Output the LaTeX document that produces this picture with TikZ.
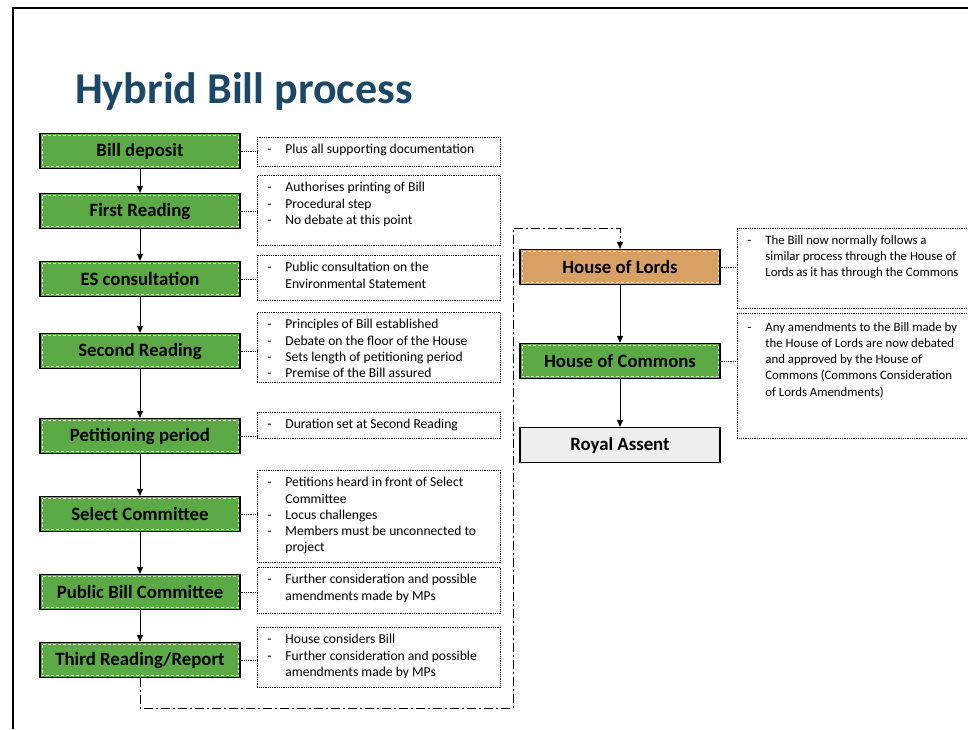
\documentclass[tikz,border=0pt]{standalone}
\usepackage{fontspec}
\setmainfont{Carlito}
\usetikzlibrary{arrows.meta}
\definecolor{stagegreen}{RGB}{92,170,70}
\definecolor{stageline}{RGB}{200,235,180}
\definecolor{lordsorange}{RGB}{216,160,98}
\definecolor{lordsline}{RGB}{245,220,185}
\definecolor{assentgrey}{RGB}{238,238,236}
\definecolor{titleblue}{RGB}{28,72,104}
\newcommand{\dashitem}{\makebox[18pt][l]{-}}
\newcommand{\contline}{\hspace*{18pt}}
\newcommand{\notetext}[3]{\parbox[c][#2][t]{#1}{\raggedright\vspace*{2pt}#3}}
\tikzset{
  inner dash/.style={path picture={\draw[#1, densely dashed, line width=0.7pt]
      ([shift={(2pt,-2pt)}]path picture bounding box.north west) rectangle
      ([shift={(-2pt,2pt)}]path picture bounding box.south east);}},
  box/.style={draw=black, line width=1.2pt, minimum width=200pt, minimum height=35pt,
    font=\bfseries\fontsize{18.8}{22}\selectfont},
  stage/.style={box, fill=stagegreen, inner dash=stageline},
  lords/.style={box, fill=lordsorange, inner dash=lordsline},
  assent/.style={box, fill=assentgrey},
  note/.style={draw, densely dotted, line width=0.8pt, anchor=north west,
    inner xsep=10pt, inner ysep=5pt, font=\fontsize{13.6}{16.2}\selectfont},
  sidenote/.style={note, font=\fontsize{12.8}{16.2}\selectfont},
  link/.style={densely dotted, line width=0.8pt},
  flow/.style={-{Triangle[length=7pt,width=6pt]}, line width=0.9pt},
  backlink/.style={flow, dash pattern=on 9pt off 3pt on 2pt off 3pt},
}
\begin{document}
\begin{tikzpicture}[x=1pt, y=-1pt]
  \useasboundingbox (0,0) rectangle (968,729);
  \clip (0,0) rectangle (968,729);
  \draw[line width=1.8pt] (13,729) -- (13,8) -- (968,8);
  \node[anchor=base west, inner sep=0, text=titleblue,
    font=\bfseries\fontsize{44}{52}\selectfont] (title) at (75,103) {Hybrid Bill process};
  % Commons stages
  \node[stage] (deposit) at (140,151) {Bill deposit};
  \node[stage] (first) at (140,211) {First Reading};
  \node[stage] (es) at (140,279) {ES consultation};
  \node[stage] (second) at (140,351) {Second Reading};
  \node[stage] (petition) at (140,436) {Petitioning period};
  \node[stage] (select) at (140,514) {Select Committee};
  \node[stage] (public) at (140,592) {Public Bill Committee};
  \node[stage] (third) at (140,660) {Third Reading/Report};
  % later stages
  \node[lords] (lords) at (620,267) {House of Lords};
  \node[stage] (commons) at (620,361) {House of Commons};
  \node[assent] (assent) at (620,445) {Royal Assent};
  % notes
  \node[note] (n1) at (257,137) {\notetext{223pt}{19pt}{\dashitem Plus all supporting documentation}};
  \node[note] (n2) at (257,175) {\notetext{223pt}{60pt}{\dashitem Authorises printing of Bill\\
    \dashitem Procedural step\\ \dashitem No debate at this point}};
  \node[note] (n3) at (257,255) {\notetext{223pt}{35pt}{\dashitem Public consultation on the\\
    \contline Environmental Statement}};
  \node[note] (n4) at (257,312) {\notetext{223pt}{60pt}{\dashitem Principles of Bill established\\
    \dashitem Debate on the floor of the House\\ \dashitem Sets length of petitioning period\\
    \dashitem Premise of the Bill assured}};
  \node[note] (n5) at (257,412) {\notetext{223pt}{16pt}{\dashitem Duration set at Second Reading}};
  \node[note] (n6) at (257,470) {\notetext{223pt}{82pt}{\dashitem Petitions heard in front of Select\\
    \contline Committee\\ \dashitem Locus challenges\\ \dashitem Members must be unconnected to\\
    \contline project}};
  \node[note] (n7) at (257,567) {\notetext{223pt}{36pt}{\dashitem Further consideration and possible\\
    \contline amendments made by MPs}};
  \node[note] (n8) at (257,627) {\notetext{223pt}{50pt}{\dashitem House considers Bill\\
    \dashitem Further consideration and possible\\ \contline amendments made by MPs}};
  \node[sidenote] (nl) at (737,228) {\notetext{250pt}{70pt}{\dashitem The Bill now normally follows a\\
    \contline similar process through the House of\\ \contline Lords as it has through the Commons}};
  \node[sidenote] (nc) at (737,313) {\notetext{250pt}{115pt}{\vspace*{2pt}\dashitem Any amendments to the Bill made by\\
    \contline the House of Lords are now debated\\ \contline and approved by the House of\\
    \contline Commons (Commons Consideration\\ \contline of Lords Amendments)}};
  % flow
  \draw[flow] (deposit) -- (first);
  \draw[flow] (first) -- (es);
  \draw[flow] (es) -- (second);
  \draw[flow] (second) -- (petition);
  \draw[flow] (petition) -- (select);
  \draw[flow] (select) -- (public);
  \draw[flow] (public) -- (third);
  \draw[flow] (lords) -- (commons);
  \draw[flow] (commons) -- (assent);
  \coordinate (loopdown) at (513,708);
  \coordinate (loopup) at (513,228);
  \draw[backlink] (third.south) |- (loopdown) -- (loopup) -| (lords.north);
  % links to notes
  \draw[link] (deposit.east) -- (deposit.east -| n1.west);
  \draw[link] (first.east) -- (first.east -| n2.west);
  \draw[link] (es.east) -- (es.east -| n3.west);
  \draw[link] (second.east) -- (second.east -| n4.west);
  \draw[link] (petition.east) -- (petition.east -| n5.west);
  \draw[link] (select.east) -- (select.east -| n6.west);
  \draw[link] (public.east) -- (public.east -| n7.west);
  \draw[link] (third.east) -- (third.east -| n8.west);
  \draw[link] (lords.east) -- (lords.east -| nl.west);
  \draw[link] (commons.east) -- (commons.east -| nc.west);
\end{tikzpicture}
\end{document}
